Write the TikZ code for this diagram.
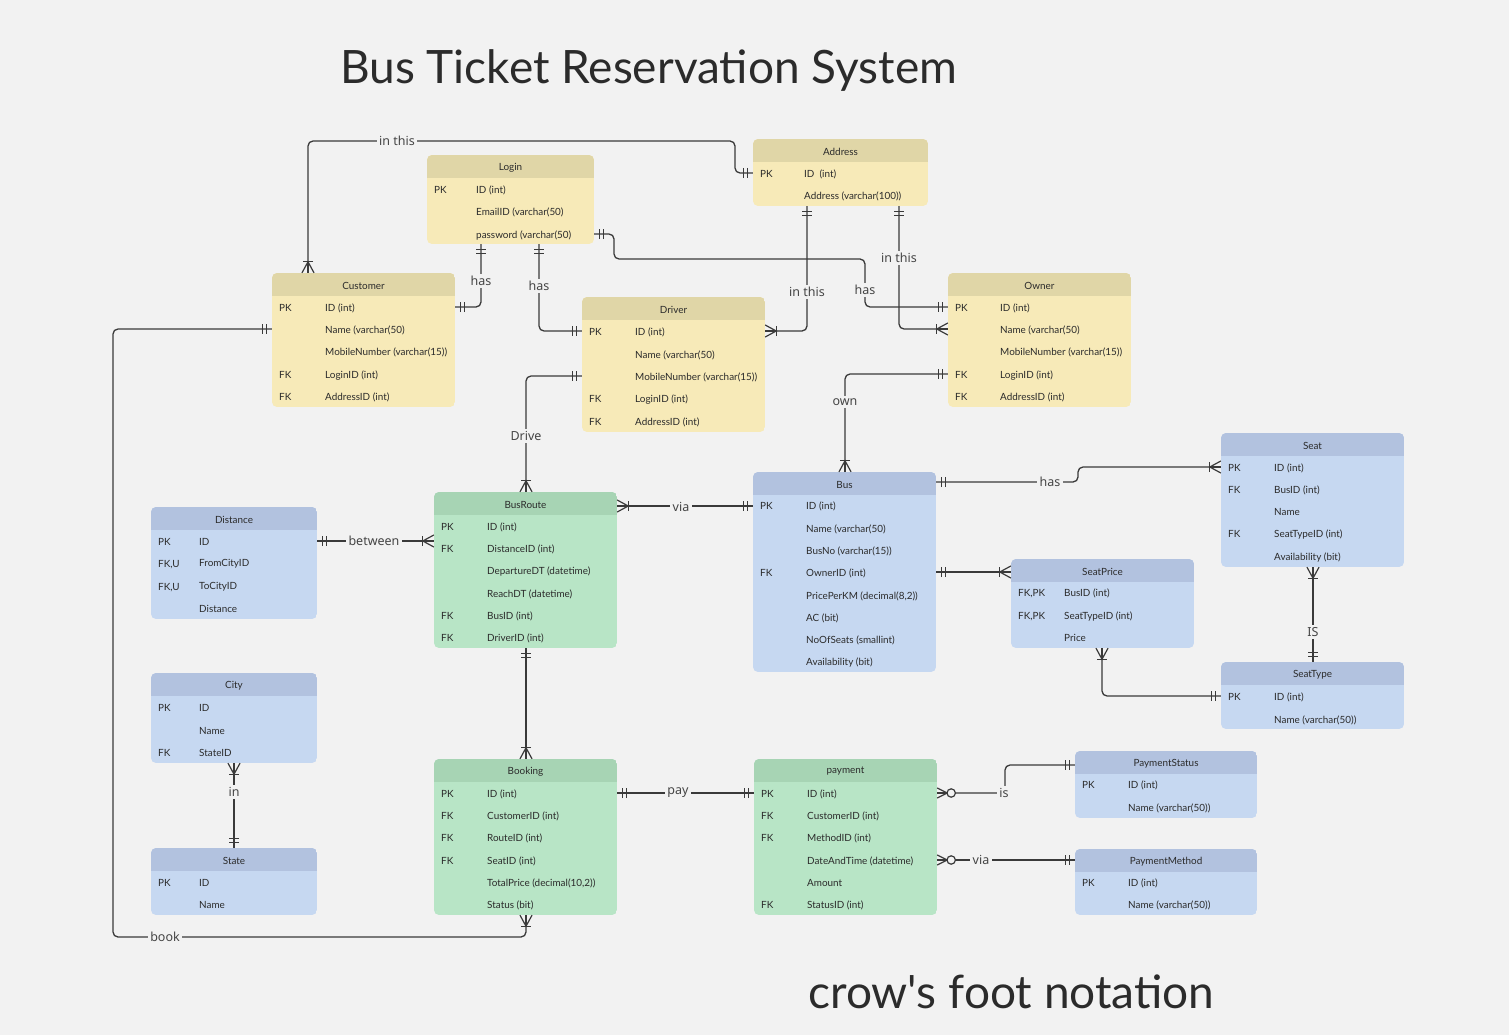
\documentclass[tikz,border=0pt]{standalone}
\usepackage{fontspec}
\setmainfont{Lato}
\newfontfamily\lblfont{Noto Sans}
\newfontfamily\plainfont[Ligatures=ResetAll]{Lato}
\usetikzlibrary{calc}
\definecolor{bg}{HTML}{F2F2F2}
\definecolor{yhdr}{HTML}{E0D6A7}
\definecolor{ybody}{HTML}{F7EAB8}
\definecolor{bhdr}{HTML}{B2C2DF}
\definecolor{bbody}{HTML}{C6D8F1}
\definecolor{ghdr}{HTML}{A7D4B4}
\definecolor{gbody}{HTML}{B8E5C6}
\definecolor{ink}{HTML}{2B2B2B}
\definecolor{lineC}{HTML}{3A3A3A}
\definecolor{lblC}{HTML}{454545}
\tikzset{
  etext/.style={inner sep=0pt, anchor=west, yshift=-1.2pt, text=ink, font=\fontsize{9.9}{11}\selectfont},
  etitle/.style={inner sep=0pt, yshift=-1pt, text=ink, font=\fontsize{9.9}{11}\selectfont},
  conn/.style={draw=lineC, line width=1.3pt, rounded corners=5pt},
  mk/.style={draw=lineC, line width=1.2pt},
  lbl/.style={fill=bg, inner sep=2.5pt, text=lblC, font=\lblfont\fontsize{12.5}{14}\selectfont},
}
% entity: #1 name, #2 x1, #3 y1, #4 x2, #5 y2, #6 header colour, #7 body colour, #8 title
\newcommand\ent[8]{%
  \begin{scope}
    \clip[rounded corners=5pt] (#2,#3) rectangle (#4,#5);
    \fill[#7] (#2,#3) rectangle (#4,#5);
    \fill[#6] (#2,#3) rectangle (#4,#3+23);
  \end{scope}
  \node[inner sep=0pt, minimum width={#4-#2}, minimum height={#5-#3}] (#1) at ({(#2+#4)/2},{(#3+#5)/2}) {};
  \node[etitle] (#1-t) at ({(#2+#4)/2},#3+11.5) {#8};
}
% row: #1 name, #2 y, #3 key, #4 field  (uses \kx and \fx)
\newcommand\erow[4]{%
  \node[etext] (#1-k) at (\kx,#2) {#3};
  \node[etext] (#1) at (\fx,#2) {#4};
}
% marks: #1 coordinate name, #2 dx, #3 dy (unit vector pointing away from the entity)
\newcommand\mone[3]{%
  \draw[mk] ($(#1)+({5*(#2)-5*(#3)},{5*(#3)+5*(#2)})$) -- ($(#1)+({5*(#2)+5*(#3)},{5*(#3)-5*(#2)})$);
  \draw[mk] ($(#1)+({9*(#2)-5*(#3)},{9*(#3)+5*(#2)})$) -- ($(#1)+({9*(#2)+5*(#3)},{9*(#3)-5*(#2)})$);
}
\newcommand\mmany[3]{%
  \draw[mk] ($(#1)+({-6*(#3)},{6*(#2)})$) -- ($(#1)+({11*(#2)},{11*(#3)})$) -- ($(#1)+({6*(#3)},{-6*(#2)})$);
  \draw[mk] (#1) -- ($(#1)+({11*(#2)},{11*(#3)})$);
  \draw[mk] ($(#1)+({11*(#2)-5*(#3)},{11*(#3)+5*(#2)})$) -- ($(#1)+({11*(#2)+5*(#3)},{11*(#3)-5*(#2)})$);
}
\newcommand\mzmany[3]{%
  \draw[mk] ($(#1)+({-5*(#3)},{5*(#2)})$) -- ($(#1)+({10*(#2)},{10*(#3)})$) -- ($(#1)+({5*(#3)},{-5*(#2)})$);
  \draw[mk] (#1) -- ($(#1)+({10*(#2)},{10*(#3)})$);
  \draw[mk, fill=bg] ($(#1)+({14*(#2)},{14*(#3)})$) circle (4.2pt);
}
\begin{document}
\begin{tikzpicture}[x=1pt, y=-1pt]
\fill[bg] (0,0) rectangle (1509,1035);
\useasboundingbox (0,0) rectangle (1509,1035);

\node[anchor=base west, inner sep=0pt, text=ink, font=\fontsize{46}{50}\selectfont] (title) at (340,84) {Bus Ticket Reservation System};
\node[anchor=base west, inner sep=0pt, text=ink, font=\plainfont\fontsize{46}{50}\selectfont] (notation) at (808,1008) {crow's foot notation};

% ---------------- entities ----------------
\ent{login}{427}{155}{594}{244}{yhdr}{ybody}{Login}
\def\kx{434}\def\fx{476}
\erow{lo1}{189}{PK}{ID (int)}
\erow{lo2}{211}{}{EmailID (varchar(50)}
\erow{lo3}{234}{}{password (varchar(50)}

\ent{address}{753}{139}{928}{206}{yhdr}{ybody}{Address}
\def\kx{760}\def\fx{804}
\erow{ad1}{173}{PK}{ID\ \ (int)}
\erow{ad2}{195}{}{Address (varchar(100))}

\ent{customer}{272}{273}{455}{407}{yhdr}{ybody}{Customer}
\def\kx{279}\def\fx{325}
\erow{cu1}{307}{PK}{ID (int)}
\erow{cu2}{329}{}{Name (varchar(50)}
\erow{cu3}{351}{}{MobileNumber (varchar(15))}
\erow{cu4}{374}{FK}{LoginID (int)}
\erow{cu5}{396}{FK}{AddressID (int)}

\ent{driver}{582}{297}{765}{432}{yhdr}{ybody}{Driver}
\def\kx{589}\def\fx{635}
\erow{dr1}{331}{PK}{ID (int)}
\erow{dr2}{354}{}{Name (varchar(50)}
\erow{dr3}{376}{}{MobileNumber (varchar(15))}
\erow{dr4}{398}{FK}{LoginID (int)}
\erow{dr5}{421}{FK}{AddressID (int)}

\ent{owner}{948}{273}{1131}{407}{yhdr}{ybody}{Owner}
\def\kx{955}\def\fx{1000}
\erow{ow1}{307}{PK}{ID (int)}
\erow{ow2}{329}{}{Name (varchar(50)}
\erow{ow3}{351}{}{MobileNumber (varchar(15))}
\erow{ow4}{374}{FK}{LoginID (int)}
\erow{ow5}{396}{FK}{AddressID (int)}

\ent{distance}{151}{507}{317}{619}{bhdr}{bbody}{Distance}
\def\kx{158}\def\fx{199}
\erow{di1}{541}{PK}{ID}
\erow{di2}{563}{FK,U}{FromCityID}
\erow{di3}{586}{FK,U}{ToCityID}
\erow{di4}{608}{}{Distance}

\ent{busroute}{434}{492}{617}{648}{ghdr}{gbody}{BusRoute}
\def\kx{441}\def\fx{487}
\erow{br1}{526}{PK}{ID (int)}
\erow{br2}{548}{FK}{DistanceID (int)}
\erow{br3}{570}{}{DepartureDT (datetime)}
\erow{br4}{593}{}{ReachDT (datetime)}
\erow{br5}{615}{FK}{BusID (int)}
\erow{br6}{637}{FK}{DriverID (int)}

\ent{bus}{753}{472}{936}{672}{bhdr}{bbody}{Bus}
\def\kx{760}\def\fx{806}
\erow{bu1}{505}{PK}{ID (int)}
\erow{bu2}{528}{}{Name (varchar(50)}
\erow{bu3}{550}{}{BusNo (varchar(15))}
\erow{bu4}{572}{FK}{OwnerID (int)}
\erow{bu5}{595}{}{PricePerKM (decimal(8,2))}
\erow{bu6}{617}{}{AC (bit)}
\erow{bu7}{639}{}{NoOfSeats (smallint)}
\erow{bu8}{661}{}{Availability (bit)}

\ent{seat}{1221}{433}{1404}{567}{bhdr}{bbody}{Seat}
\def\kx{1228}\def\fx{1274}
\erow{se1}{467}{PK}{ID (int)}
\erow{se2}{489}{FK}{BusID (int)}
\erow{se3}{511}{}{Name}
\erow{se4}{533}{FK}{SeatTypeID (int)}
\erow{se5}{556}{}{Availability (bit)}

\ent{seatprice}{1011}{559}{1194}{648}{bhdr}{bbody}{SeatPrice}
\def\kx{1018}\def\fx{1064}
\erow{sp1}{592}{FK,PK}{BusID (int)}
\erow{sp2}{615}{FK,PK}{SeatTypeID (int)}
\erow{sp3}{637}{}{Price}

\ent{seattype}{1221}{662}{1404}{729}{bhdr}{bbody}{SeatType}
\def\kx{1228}\def\fx{1274}
\erow{st1}{696}{PK}{ID (int)}
\erow{st2}{719}{}{Name (varchar(50))}

\ent{city}{151}{673}{317}{763}{bhdr}{bbody}{City}
\def\kx{158}\def\fx{199}
\erow{ci1}{707}{PK}{ID}
\erow{ci2}{730}{}{Name}
\erow{ci3}{752}{FK}{StateID}

\ent{state}{151}{848}{317}{915}{bhdr}{bbody}{State}
\erow{sa1}{882}{PK}{ID}
\erow{sa2}{904}{}{Name}

\ent{booking}{434}{759}{617}{915}{ghdr}{gbody}{Booking}
\def\kx{441}\def\fx{487}
\erow{bo1}{793}{PK}{ID (int)}
\erow{bo2}{815}{FK}{CustomerID (int)}
\erow{bo3}{837}{FK}{RouteID (int)}
\erow{bo4}{860}{FK}{SeatID (int)}
\erow{bo5}{882}{}{TotalPrice (decimal(10,2))}
\erow{bo6}{904}{}{Status (bit)}

\ent{payment}{754}{759}{937}{915}{ghdr}{gbody}{payment}
\def\kx{761}\def\fx{807}
\erow{pa1}{793}{PK}{ID (int)}
\erow{pa2}{815}{FK}{CustomerID (int)}
\erow{pa3}{837}{FK}{MethodID (int)}
\erow{pa4}{860}{}{DateAndTime (datetime)}
\erow{pa5}{882}{}{Amount}
\erow{pa6}{904}{FK}{StatusID (int)}

\ent{pstatus}{1075}{751}{1257}{818}{bhdr}{bbody}{PaymentStatus}
\def\kx{1082}\def\fx{1128}
\erow{ps1}{784}{PK}{ID (int)}
\erow{ps2}{807}{}{Name (varchar(50))}

\ent{pmethod}{1075}{849}{1257}{915}{bhdr}{bbody}{PaymentMethod}
\erow{pm1}{882}{PK}{ID (int)}
\erow{pm2}{904}{}{Name (varchar(50))}

% ---------------- connector end points ----------------
\coordinate (p1a) at (308,0 |- customer.north);
\coordinate (p1b) at (address.west |- 0,173);
\coordinate (p2a) at (481,0 |- login.south);
\coordinate (p2b) at (customer.east |- 0,307);
\coordinate (p3a) at (539,0 |- login.south);
\coordinate (p3b) at (driver.west |- 0,331);
\coordinate (p4a) at (login.east |- 0,234);
\coordinate (p4b) at (owner.west |- 0,307);
\coordinate (p5a) at (807,0 |- address.south);
\coordinate (p5b) at (driver.east |- 0,331);
\coordinate (p6a) at (899,0 |- address.south);
\coordinate (p6b) at (owner.west |- 0,329);
\coordinate (p7a) at (owner.west |- 0,374);
\coordinate (p7b) at (845,0 |- bus.north);
\coordinate (p8a) at (driver.west |- 0,376);
\coordinate (p8b) at (526,0 |- busroute.north);
\coordinate (p9a) at (busroute.east |- 0,506);
\coordinate (p9b) at (bus.west |- 0,506);
\coordinate (p10a) at (distance.east |- 0,541);
\coordinate (p10b) at (busroute.west |- 0,541);
\coordinate (p11a) at (bus.east |- 0,482);
\coordinate (p11b) at (seat.west |- 0,467);
\coordinate (p12a) at (bus.east |- 0,572);
\coordinate (p12b) at (seatprice.west |- 0,572);
\coordinate (p13a) at (1102,0 |- seatprice.south);
\coordinate (p13b) at (seattype.west |- 0,696);
\coordinate (p14a) at (1313,0 |- seat.south);
\coordinate (p14b) at (1313,0 |- seattype.north);
\coordinate (p15a) at (234,0 |- city.south);
\coordinate (p15b) at (234,0 |- state.north);
\coordinate (p16a) at (526,0 |- busroute.south);
\coordinate (p16b) at (526,0 |- booking.north);
\coordinate (p17a) at (customer.west |- 0,329);
\coordinate (p17b) at (526,0 |- booking.south);
\coordinate (p18a) at (booking.east |- 0,793);
\coordinate (p18b) at (payment.west |- 0,793);
\coordinate (p19a) at (payment.east |- 0,793);
\coordinate (p19b) at (pstatus.west |- 0,765);
\coordinate (p20a) at (payment.east |- 0,860);
\coordinate (p20b) at (pmethod.west |- 0,860);

% ---------------- connectors ----------------
\draw[conn] (p1a) -- (308,141) -- (735,141) -- (735,173) -- (p1b);
\draw[conn] (p2a) -- (481,307) -- (p2b);
\draw[conn] (p3a) -- (539,331) -- (p3b);
\draw[conn] (p4a) -- (614,234) -- (614,259) -- (865,259) -- (865,307) -- (p4b);
\draw[conn] (p5a) -- (807,331) -- (p5b);
\draw[conn] (p6a) -- (899,329) -- (p6b);
\draw[conn] (p7a) -- (845,374) -- (p7b);
\draw[conn] (p8a) -- (526,376) -- (p8b);
\draw[conn] (p9a) -- (p9b);
\draw[conn] (p10a) -- (p10b);
\draw[conn] (p11a) -- (1078,482) -- (1078,467) -- (p11b);
\draw[conn] (p12a) -- (p12b);
\draw[conn] (p13a) -- (1102,696) -- (p13b);
\draw[conn] (p14a) -- (p14b);
\draw[conn] (p15a) -- (p15b);
\draw[conn] (p16a) -- (p16b);
\draw[conn] (p17a) -- (113,329) -- (113,937) -- (526,937) -- (p17b);
\draw[conn] (p18a) -- (p18b);
\draw[conn] (p19a) -- (1005,793) -- (1005,765) -- (p19b);
\draw[conn] (p20a) -- (p20b);

% ---------------- labels ----------------
\node[lbl] (l1) at (397,141) {in this};
\node[lbl] (l2) at (481,281) {has};
\node[lbl] (l3) at (539,286) {has};
\node[lbl] (l4) at (865,290) {has};
\node[lbl] (l5) at (807,292) {in this};
\node[lbl] (l6) at (899,258) {in this};
\node[lbl] (l7) at (845,402) {own};
\node[lbl] (l8) at (526,436) {Drive};
\node[lbl] (l9) at (681,507) {via};
\node[lbl] (l10) at (374,541) {between};
\node[lbl] (l11) at (1050,482) {has};
\node[lbl] (l14) at (1313,632) {IS};
\node[lbl] (l15) at (234,792) {in};
\node[lbl] (l17) at (165,937) {book};
\node[lbl] (l18) at (678,793) {pay};
\node[lbl] (l19) at (1004,793) {is};
\node[lbl] (l20) at (981,860) {via};

% ---------------- cardinality marks ----------------
\mmany{p1a}{0}{-1}  \mone{p1b}{-1}{0}
\mone{p2a}{0}{1}    \mone{p2b}{1}{0}
\mone{p3a}{0}{1}    \mone{p3b}{-1}{0}
\mone{p4a}{1}{0}    \mone{p4b}{-1}{0}
\mone{p5a}{0}{1}    \mmany{p5b}{1}{0}
\mone{p6a}{0}{1}    \mmany{p6b}{-1}{0}
\mone{p7a}{-1}{0}   \mmany{p7b}{0}{-1}
\mone{p8a}{-1}{0}   \mmany{p8b}{0}{-1}
\mmany{p9a}{1}{0}   \mone{p9b}{-1}{0}
\mone{p10a}{1}{0}   \mmany{p10b}{-1}{0}
\mone{p11a}{1}{0}   \mmany{p11b}{-1}{0}
\mone{p12a}{1}{0}   \mmany{p12b}{-1}{0}
\mmany{p13a}{0}{1}  \mone{p13b}{-1}{0}
\mmany{p14a}{0}{1}  \mone{p14b}{0}{-1}
\mmany{p15a}{0}{1}  \mone{p15b}{0}{-1}
\mone{p16a}{0}{1}   \mmany{p16b}{0}{-1}
\mone{p17a}{-1}{0}  \mmany{p17b}{0}{1}
\mone{p18a}{1}{0}   \mone{p18b}{-1}{0}
\mzmany{p19a}{1}{0} \mone{p19b}{-1}{0}
\mzmany{p20a}{1}{0} \mone{p20b}{-1}{0}
\end{tikzpicture}
\end{document}
